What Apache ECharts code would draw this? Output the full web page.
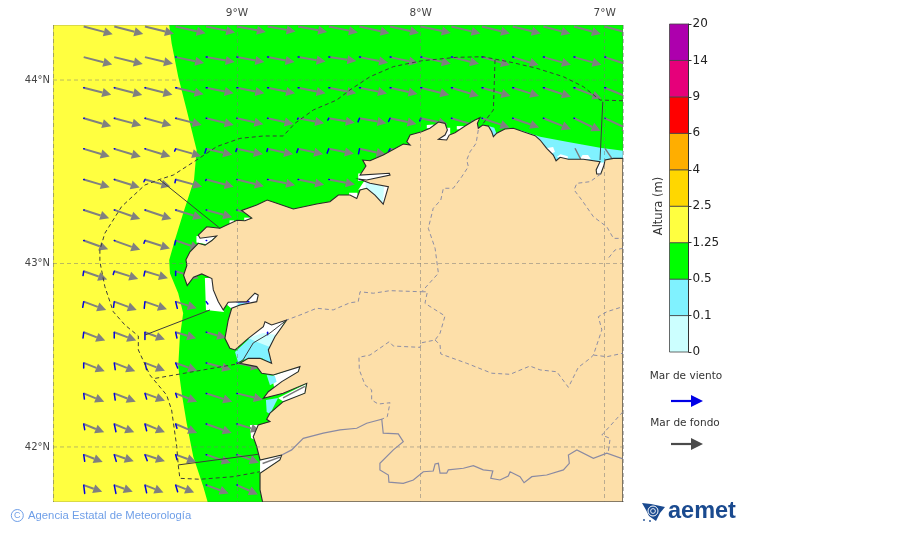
<!DOCTYPE html>
<html>
<head>
<meta charset="utf-8">
<title>Altura de ola</title>
<script src="https://cdn.jsdelivr.net/npm/echarts@6/dist/echarts.min.js"></script>
<style>
  html, body { margin: 0; padding: 0; background: #fff; }
  #main { width: 900px; height: 533px; }
</style>
</head>
<body>
<div id="main"></div>
<script>
// axis labels
const lonTicks = [-9, -8, -7];
const lonLabels = ['9°W', '8°W', '7°W'];
const latTicks = [42, 43, 44];
const latLabels = ['42°N', '43°N', '44°N'];

// colour bar
const barTicks = ['0', '0.1', '0.5', '1.25', '2.5', '4', '6', '9', '14', '20'];
const barColors = ['#ccffff', '#80f2ff', '#00ff00', '#ffff40', '#ffd700', '#ffae00', '#ff0000', '#e6007a', '#ad00ad'];

// arrow grid
const arrowLons = [-9.833, -9.667, -9.5, -9.333, -9.167, -9, -8.833, -8.667, -8.5, -8.333, -8.167, -8, -7.833, -7.667, -7.5, -7.333, -7.167, -7];
const arrowLats = [44.292, 44.125, 43.958, 43.792, 43.625, 43.458, 43.292, 43.125, 42.958, 42.792, 42.625, 42.458, 42.292, 42.125, 41.958, 41.792];

// mar de fondo, one row per latitude
const swellU = [
  [2.9, 2.9, 2.9, 3.0, 2.9, 2.9, 2.8, 2.9, 2.9, 3.0, 2.9, 3.0, 2.9, 2.8, 2.8, 2.7, 2.7, 2.7],
  [2.85, 2.85, 2.8, 2.85, 2.85, 2.75, 2.7, 2.75, 2.75, 2.85, 2.8, 3.0, 2.75, 2.8, 2.6, 2.75, 2.75, 2.75],
  [2.75, 2.8, 2.75, 2.8, 2.75, 2.75, 2.75, 2.75, 2.75, 2.75, 2.75, 2.85, 2.75, 2.85, 2.65, 2.75, 2.75, 2.75],
  [2.75, 2.7, 2.65, 2.6, 2.75, 2.65, 2.6, 2.6, 2.6, 2.7, 2.65, 2.7, 2.75, 2.75, 2.65, 2.75, 2.65, 2.7],
  [2.6, 2.65, 2.55, 2.55, 2.6, 2.6, 2.55, 2.5, 2.5, 2.6, 2.6],
  [2.6, 2.55, 2.55, 2.65, 2.75, 2.7, 2.75, 2.6, 2.6],
  [2.55, 2.6, 2.65, 2.65, 2.6, 2.5],
  [2.45, 2.6, 2.5, 2.4],
  [2.35, 2.4, 2.3, 2.3],
  [2.25, 2.25, 2.2, 2.1],
  [2.15, 2.2, 2.0, 2.05, 2.0],
  [2.1, 2.1, 2.0, 2.15, 2.5, 2.3],
  [2.05, 2.15, 2.0, 2.15, 2.6, 2.6],
  [2.05, 2.0, 2.0, 2.15, 2.55, 2.3],
  [1.9, 1.95, 2.0, 2.05, 2.45, 2.2],
  [1.85, 1.85, 1.85, 1.85, 2.25, 2.1]
];
const swellV = [
  [-0.77, -0.75, -0.72, -0.67, -0.6, -0.55, -0.5, -0.55, -0.6, -0.67, -0.65, -0.65, -0.7, -0.7, -0.7, -0.72, -0.75, -0.75],
  [-0.73, -0.7, -0.67, -0.6, -0.5, -0.5, -0.5, -0.45, -0.4, -0.57, -0.6, -0.67, -0.67, -0.8, -0.8, -0.77, -0.77, -0.9],
  [-0.7, -0.72, -0.7, -0.65, -0.55, -0.55, -0.55, -0.55, -0.55, -0.57, -0.63, -0.73, -0.83, -0.83, -0.83, -0.9, -1.07, -1.1],
  [-0.8, -0.73, -0.73, -0.67, -0.67, -0.6, -0.57, -0.5, -0.45, -0.5, -0.57, -0.6, -0.83, -0.93, -0.93, -1.1, -1.27, -1.25],
  [-0.77, -0.8, -0.77, -0.73, -0.6, -0.55, -0.55, -0.53, -0.5, -0.55, -0.6],
  [-0.77, -0.8, -0.7, -0.73, -0.73, -0.67, -0.57, -0.53, -0.5],
  [-0.83, -0.9, -0.9, -0.83, -0.73, -0.7],
  [-0.87, -0.93, -0.8, -0.8],
  [-0.83, -0.77, -0.7, -0.7],
  [-0.83, -0.83, -0.77, -0.67],
  [-0.83, -0.83, -0.73, -0.6, -0.55],
  [-0.83, -0.83, -0.77, -0.77, -0.67, -0.5],
  [-0.83, -0.83, -0.73, -0.83, -0.83, -0.63],
  [-0.83, -0.83, -0.83, -0.9, -0.9, -0.7],
  [-0.73, -0.67, -0.67, -0.73, -0.83, -0.8],
  [-0.67, -0.67, -0.73, -0.73, -0.83, -0.93]
];

// mar de viento, same grid
const windU = [
  [],
  [0, 0, 0, 0.05, 0.1, 0.1, 0.1, 0.1, 0.1, 0.1, 0.1, 0.1, 0.1, 0.1, 0.1, 0.1, 0.1, 0.1],
  [0.05, 0.05, 0.05, 0.1, 0.1, 0.1, 0.1, 0.1, 0.1, 0.1, 0.1, 0.1, 0.1, 0.1, 0.1, 0.1, 0.1, 0.1],
  [0.05, 0.05, 0.05, 0.05, 0.05, 0.05, 0.05, -0.05, -0.1, -0.15, -0.15, -0.1, 0.05, 0.05, 0.05, 0.05, 0.05, 0.05],
  [0.05, 0.05, 0.05, -0.1, -0.13, -0.1, -0.07, -0.13, -0.17, -0.1, -0.17],
  [0.05, 0.05, -0.1, -0.07, -0.05, 0.05, 0.05, 0.05, 0.05, 0.05],
  [0.05, 0.05, 0.05, 0.05, 0.05, 0.05],
  [0.05, 0.05, -0.1, -0.1, 0.05],
  [-0.07, -0.1, -0.1, 0],
  [-0.1, -0.07, -0.07, 0.17, 0.17, 1.2],
  [-0.07, 0, 0, 0.13, 0.05, 0, 0],
  [0, 0.1, 0.17, 0.2, 0.05, 0.05],
  [0.07, 0.1, 0.17, 0.13, 0.05, 0.05],
  [0.1, 0.17, 0.17, 0.13, 0.05, 0.05],
  [0.1, 0.2, 0.23, 0.13, 0.05, 0.05],
  [0.1, 0.17, 0.17, 0.2, 0.05, 0.05]
];
const windV = [
  [],
  [0, 0, 0, 0, 0, 0, 0, 0, 0, 0, 0, 0, 0, 0, 0, 0, 0, 0],
  [0, 0, 0, 0, 0, 0, 0, 0, 0, 0, 0, 0, 0, 0, 0, 0, 0, 0],
  [0, 0, 0, 0, 0, 0, 0, -0.1, -0.2, -0.37, -0.33, -0.27, 0, 0, 0, 0, 0, 0],
  [0, 0, 0, -0.23, -0.43, -0.27, -0.27, -0.37, -0.43, -0.5, -0.33],
  [0, 0, -0.23, -0.33, -0.1, 0, 0, 0, 0, 0],
  [0, 0, 0, 0, 0, 0],
  [0, 0, -0.27, -0.43, 0],
  [-0.43, -0.33, -0.47, -0.43],
  [-0.57, -0.57, -0.67, -0.67, -0.23, 0],
  [-0.57, -0.57, -0.73, -0.57, 0, 0, -0.25],
  [-0.5, -0.67, -0.67, -0.5, 0, 0],
  [-0.57, -0.67, -0.57, -0.4, 0, 0],
  [-0.57, -0.77, -0.67, -0.43, 0, 0],
  [-0.67, -0.67, -0.6, -0.5, 0, 0],
  [-0.83, -0.83, -0.77, -0.67, 0, 0]
];

// areas, [lon, lat]
const greenArea = [[-9.368, 44.3], [-9.355, 44.2], [-9.319, 44.018], [-9.273, 43.837], [-9.219, 43.619], [-9.233, 43.455], [-9.292, 43.274], [-9.337, 43.128], [-9.368, 43.019], [-9.364, 42.947], [-9.319, 42.838], [-9.292, 42.729], [-9.31, 42.601], [-9.319, 42.438], [-9.3, 42.293], [-9.273, 42.129], [-9.237, 41.947], [-9.183, 41.784], [-9.159, 41.7], [-6.9, 41.7], [-6.9, 44.3]];
const cyanAreas = [
  [[-7.46, 43.728], [-7.351, 43.691], [-7.206, 43.664], [-7.025, 43.631], [-6.9, 43.615], [-6.9, 43.55], [-7.25, 43.55], [-7.4, 43.65]],
  [[-7.632, 43.75], [-7.6, 43.74], [-7.585, 43.7], [-7.61, 43.69]],
  [[-9.01, 42.518], [-8.929, 42.594], [-8.86, 42.59], [-8.82, 42.556], [-8.809, 42.447], [-8.863, 42.483], [-8.94, 42.483], [-8.994, 42.463]],
  [[-8.838, 42.392], [-8.793, 42.387], [-8.784, 42.356], [-8.82, 42.337]],
  [[-8.842, 42.256], [-8.776, 42.267], [-8.82, 42.18], [-8.838, 42.191]],
  [[-8.994, 42.785], [-8.94, 42.785], [-8.983, 42.747], [-9.005, 42.757]]
];
const paleAreas = [
  [[-8.3, 43.45], [-8.2, 43.42], [-8.205, 43.33], [-8.25, 43.37], [-8.3, 43.41]],
  [[-8.94, 42.594], [-8.858, 42.621], [-8.78, 42.61], [-8.82, 42.545], [-8.89, 42.572]]
];
// no data in the rias, under the cyan
const whiteAreas = [
  [[-7.967, 43.737], [-7.967, 43.755], [-7.93, 43.757], [-7.93, 43.737]],
  [[-7.804, 43.731], [-7.804, 43.749], [-7.759, 43.749], [-7.759, 43.731]],
  [[-7.91, 43.665], [-7.91, 43.69], [-7.87, 43.74], [-7.84, 43.74], [-7.84, 43.67]],
  [[-8.34, 43.45], [-8.34, 43.49], [-8.16, 43.5], [-8.16, 43.47]],
  [[-8.34, 43.4], [-8.3, 43.46], [-8.17, 43.43], [-8.2, 43.31], [-8.25, 43.36], [-8.3, 43.41]],
  [[-8.39, 43.385], [-8.345, 43.385], [-8.34, 43.35], [-8.39, 43.35]],
  [[-8.96, 43.25], [-8.925, 43.25], [-8.925, 43.232], [-8.96, 43.232]],
  [[-9.04, 43.235], [-9.015, 43.235], [-9.015, 43.215], [-9.04, 43.215]],
  [[-9.22, 43.15], [-9.11, 43.15], [-9.164, 43.105], [-9.22, 43.115]],
  [[-9.174, 42.921], [-9.135, 42.921], [-9.114, 42.856], [-9.07, 42.736], [-9.168, 42.747]],
  [[-9.065, 42.785], [-8.885, 42.839], [-8.885, 42.785], [-9.027, 42.752]],
  [[-8.94, 42.594], [-8.847, 42.692], [-8.727, 42.703], [-8.793, 42.594], [-8.831, 42.518], [-8.809, 42.452], [-8.863, 42.556]],
  [[-8.809, 42.387], [-8.657, 42.44], [-8.668, 42.408], [-8.755, 42.354], [-8.793, 42.3]],
  [[-8.776, 42.267], [-8.624, 42.343], [-8.63, 42.294], [-8.744, 42.245]],
  [[-8.929, 42.12], [-8.885, 42.12], [-8.902, 42.038], [-8.923, 42.049]],
  [[-8.874, 41.929], [-8.756, 41.956], [-8.766, 41.929], [-8.874, 41.857]],
  [[-7.046, 43.51], [-7.043, 43.488], [-7.021, 43.488], [-7, 43.54], [-6.998, 43.57], [-7.03, 43.56]]
];
// white spots on top of the cyan band
const whiteSpots = [
  [[-7.313, 43.629], [-7.28, 43.635], [-7.27, 43.608], [-7.297, 43.597]],
  [[-7.134, 43.57], [-7.12, 43.592], [-7.09, 43.592], [-7.075, 43.57]],
  [[-7.26, 43.58], [-7.24, 43.595], [-7.2, 43.585], [-7.2, 43.57]]
];

const landArea = [[-6.9, 43.573], [-6.952, 43.573], [-6.998, 43.564], [-7.003, 43.537], [-7.021, 43.488], [-7.043, 43.488], [-7.046, 43.51], [-7.025, 43.555], [-7.116, 43.568], [-7.197, 43.568], [-7.242, 43.579], [-7.264, 43.56], [-7.279, 43.591], [-7.315, 43.628], [-7.351, 43.673], [-7.378, 43.697], [-7.442, 43.718], [-7.496, 43.737], [-7.542, 43.733], [-7.587, 43.71], [-7.605, 43.691], [-7.614, 43.718], [-7.632, 43.749], [-7.663, 43.755], [-7.687, 43.737], [-7.692, 43.764], [-7.678, 43.795], [-7.705, 43.782], [-7.759, 43.749], [-7.814, 43.713], [-7.845, 43.7], [-7.859, 43.673], [-7.904, 43.677], [-7.868, 43.7], [-7.855, 43.728], [-7.868, 43.764], [-7.904, 43.771], [-7.95, 43.737], [-7.995, 43.718], [-8.058, 43.7], [-8.076, 43.664], [-8.058, 43.646], [-8.095, 43.651], [-8.204, 43.591], [-8.276, 43.56], [-8.316, 43.564], [-8.298, 43.531], [-8.33, 43.482], [-8.171, 43.492], [-8.167, 43.482], [-8.294, 43.455], [-8.334, 43.459], [-8.276, 43.437], [-8.176, 43.419], [-8.204, 43.323], [-8.249, 43.373], [-8.294, 43.41], [-8.33, 43.401], [-8.348, 43.355], [-8.385, 43.373], [-8.448, 43.373], [-8.494, 43.337], [-8.566, 43.324], [-8.693, 43.297], [-8.783, 43.328], [-8.835, 43.346], [-8.892, 43.319], [-8.974, 43.289], [-8.919, 43.248], [-8.956, 43.233], [-9.0, 43.236], [-9.092, 43.192], [-9.164, 43.2], [-9.21, 43.155], [-9.2, 43.138], [-9.11, 43.15], [-9.136, 43.125], [-9.173, 43.1], [-9.21, 43.11], [-9.255, 43.064], [-9.277, 43.02], [-9.272, 42.99], [-9.29, 42.936], [-9.27, 42.88], [-9.236, 42.925], [-9.191, 42.943], [-9.136, 42.918], [-9.128, 42.856], [-9.101, 42.792], [-9.074, 42.747], [-9.047, 42.789], [-8.947, 42.792], [-8.902, 42.838], [-8.884, 42.828], [-8.892, 42.792], [-8.983, 42.774], [-9.028, 42.756], [-9.047, 42.692], [-9.065, 42.592], [-9.038, 42.538], [-9.01, 42.529], [-8.938, 42.592], [-8.856, 42.656], [-8.847, 42.683], [-8.811, 42.665], [-8.729, 42.692], [-8.793, 42.601], [-8.829, 42.529], [-8.811, 42.456], [-8.874, 42.483], [-8.938, 42.483], [-8.983, 42.456], [-8.892, 42.438], [-8.865, 42.402], [-8.802, 42.392], [-8.657, 42.438], [-8.666, 42.41], [-8.756, 42.356], [-8.829, 42.301], [-8.856, 42.265], [-8.748, 42.293], [-8.62, 42.347], [-8.63, 42.293], [-8.748, 42.247], [-8.82, 42.184], [-8.838, 42.151], [-8.82, 42.138], [-8.884, 42.12], [-8.911, 42.056], [-8.892, 42.002], [-8.874, 41.929], [-8.756, 41.956], [-8.766, 41.929], [-8.874, 41.857], [-8.874, 41.766], [-8.86, 41.7], [-6.9, 41.7]];

// jurisdiction limits at sea
const seaDashed = [
  [[-6.9, 43.887], [-7.025, 43.891], [-7.116, 43.964], [-7.224, 44.018], [-7.369, 44.064], [-7.496, 44.094], [-7.66, 44.127], [-7.804, 44.124], [-7.995, 44.105], [-8.149, 44.073], [-8.276, 44.018], [-8.385, 43.946], [-8.457, 43.891], [-8.584, 43.837], [-8.684, 43.764], [-8.748, 43.695], [-8.856, 43.695], [-8.983, 43.682], [-9.11, 43.637], [-9.219, 43.564], [-9.346, 43.482], [-9.418, 43.459], [-9.5, 43.428], [-9.627, 43.31], [-9.718, 43.165], [-9.745, 43.074], [-9.745, 43.01], [-9.718, 42.874], [-9.672, 42.737], [-9.609, 42.665], [-9.536, 42.605], [-9.536, 42.529], [-9.473, 42.392], [-9.382, 42.283], [-9.355, 42.202], [-9.327, 42.002], [-9.319, 41.902], [-9.31, 41.829], [-9.2, 41.824], [-9.02, 41.838], [-8.874, 41.865]],
  [[-9.444, 42.374], [-9.001, 42.452]],
  [[-7.596, 44.109], [-7.605, 43.837], [-7.66, 43.764]]
];
const seaSolid = [
  [[-9.001, 42.452], [-8.967, 42.474], [-8.911, 42.567], [-8.82, 42.621], [-8.729, 42.692]],
  [[-9.5, 42.61], [-9.146, 42.747]],
  [[-9.319, 41.902], [-8.884, 41.96]],
  [[-9.418, 43.455], [-9.092, 43.192]],
  [[-7.01, 43.882], [-7.025, 43.564]]
];
const shoalLines = [
  [[-7.161, 43.628], [-7.13, 43.568]],
  [[-6.998, 43.628], [-6.961, 43.573]],
  [[-8.749, 42.267], [-8.63, 42.33]],
  [[-8.86, 41.91], [-8.766, 41.945]]
];

// inland limits
const provinceLines = [
  [[-7.687, 43.728], [-7.699, 43.655], [-7.732, 43.609], [-7.75, 43.564], [-7.741, 43.528], [-7.777, 43.473], [-7.823, 43.41], [-7.877, 43.41], [-7.891, 43.346], [-7.932, 43.301], [-7.959, 43.192], [-7.922, 43.083], [-7.904, 42.947], [-7.995, 42.846], [-8.167, 42.852], [-8.258, 42.838], [-8.33, 42.846], [-8.34, 42.792], [-8.385, 42.786], [-8.476, 42.747], [-8.566, 42.756], [-8.657, 42.719], [-8.729, 42.692]],
  [[-7.995, 42.846], [-7.964, 42.846], [-7.977, 42.783], [-7.868, 42.714], [-7.895, 42.62], [-7.922, 42.583], [-7.995, 42.568], [-8.004, 42.543], [-8.149, 42.55], [-8.171, 42.574], [-8.276, 42.501], [-8.336, 42.489], [-8.334, 42.42], [-8.303, 42.338], [-8.267, 42.311], [-8.267, 42.256], [-8.231, 42.234], [-8.167, 42.241], [-8.182, 42.165], [-8.212, 42.151]],
  [[-7.922, 42.583], [-7.895, 42.556], [-7.891, 42.507], [-7.75, 42.456], [-7.614, 42.402], [-7.514, 42.396], [-7.406, 42.441], [-7.351, 42.42], [-7.26, 42.41], [-7.197, 42.325], [-7.143, 42.434], [-7.079, 42.483], [-7.061, 42.501], [-7.015, 42.638], [-7.034, 42.71], [-6.988, 42.737], [-6.9, 42.765]],
  [[-7.061, 42.501], [-6.988, 42.492], [-6.9, 42.511]],
  [[-6.9, 42.192], [-7.015, 42.065], [-6.97, 42.047], [-6.98, 41.974]],
  [[-7.021, 43.488], [-7.079, 43.446], [-7.151, 43.437], [-7.166, 43.401], [-7.124, 43.346], [-7.061, 43.255], [-6.988, 43.2], [-6.952, 43.137], [-6.9, 43.137]],
  [[-6.9, 43.083], [-6.943, 43.074], [-6.988, 43.019]]
];
const borderLine = [[-8.756, 41.956], [-8.702, 41.984], [-8.639, 42.047], [-8.53, 42.075], [-8.439, 42.093], [-8.348, 42.102], [-8.294, 42.129], [-8.212, 42.151], [-8.204, 42.075], [-8.122, 42.071], [-8.095, 42.029], [-8.149, 41.984], [-8.222, 41.911], [-8.222, 41.875], [-8.176, 41.847], [-8.173, 41.808], [-8.095, 41.802], [-8.04, 41.82], [-7.986, 41.865], [-7.932, 41.869], [-7.922, 41.907], [-7.904, 41.911], [-7.895, 41.857], [-7.859, 41.857], [-7.85, 41.875], [-7.768, 41.884], [-7.714, 41.898], [-7.66, 41.875], [-7.608, 41.869], [-7.619, 41.829], [-7.569, 41.82], [-7.524, 41.842], [-7.514, 41.865], [-7.46, 41.838], [-7.438, 41.805], [-7.396, 41.838], [-7.315, 41.847], [-7.224, 41.875], [-7.192, 41.911], [-7.197, 41.956], [-7.151, 41.984], [-7.061, 41.938], [-6.988, 41.966], [-6.9, 41.935]];

const LON_MIN = -10, LON_MAX = -6.9, LAT_MIN = 41.7, LAT_MAX = 44.3;
const ARROW_PX = 10;
const GRATICULE = 'rgba(120,120,120,0.5)';

function polygons(rings, style, z) {
  return {
    type: 'custom', silent: true, clip: true, z: z,
    xAxisIndex: 0, yAxisIndex: 0,
    data: rings.map(r => r[0]),
    renderItem: (params, api) => ({
      type: 'polygon',
      shape: { points: rings[params.dataIndex].map(p => api.coord(p)) },
      style: style
    })
  };
}

function polylines(lines, style, z) {
  return {
    type: 'custom', silent: true, clip: true, z: z,
    xAxisIndex: 0, yAxisIndex: 0,
    data: lines.map(r => r[0]),
    renderItem: (params, api) => ({
      type: 'polyline',
      shape: { points: lines[params.dataIndex].map(p => api.coord(p)) },
      style: Object.assign({ fill: null }, style)
    })
  };
}

function gridCells(uRows, vRows) {
  let cells = [];
  uRows.forEach((row, i) => row.forEach((u, j) => {
    cells.push([arrowLons[j], arrowLats[i], u, vRows[i][j]]);
  }));
  return cells;
}

function renderSwell(params, api) {
  let start = api.coord([api.value(0), api.value(1)]);
  let dx = api.value(2) * ARROW_PX, dy = -api.value(3) * ARROW_PX;
  let len = Math.sqrt(dx * dx + dy * dy);
  let ux = dx / len, uy = dy / len;
  let tip = [start[0] + dx, start[1] + dy];
  let back = [tip[0] - ux * 9, tip[1] - uy * 9];
  return {
    type: 'group',
    children: [
      { type: 'line', shape: { x1: start[0], y1: start[1], x2: back[0], y2: back[1] },
        style: { stroke: '#808080', lineWidth: 2 } },
      { type: 'polygon',
        shape: { points: [tip, [back[0] - uy * 4.6, back[1] + ux * 4.6], [back[0] + uy * 4.6, back[1] - ux * 4.6]] },
        style: { fill: '#808080' } }
    ]
  };
}

function renderWind(params, api) {
  let u = api.value(2), v = api.value(3);
  if (u === 0 && v === 0) return null;
  let start = api.coord([api.value(0), api.value(1)]);
  return {
    type: 'line',
    shape: { x1: start[0], y1: start[1], x2: start[0] + u * ARROW_PX, y2: start[1] - v * ARROW_PX },
    style: { stroke: '#0000e6', lineWidth: 1.5, lineCap: 'round' }
  };
}

function legendArrow(y, color) {
  return [
    { type: 'line', z: 20, shape: { x1: 671, y1: y, x2: 693, y2: y }, style: { stroke: color, lineWidth: 2.2 } },
    { type: 'polygon', z: 20, shape: { points: [[703, y], [691, y - 6], [691, y + 6]] }, style: { fill: color } }
  ];
}

const textFont = 'DejaVu Sans';

let chart = echarts.init(document.getElementById('main'), null, { renderer: 'canvas' });

chart.setOption({
  animation: false,
  backgroundColor: '#fff',
  grid: [
    { left: 53, top: 25, width: 570, height: 477, show: true, backgroundColor: '#ffff40', borderWidth: 0 },
    { left: 669.5, top: 24, width: 19, height: 328 }
  ],
  xAxis: [
    {
      gridIndex: 0, type: 'value', position: 'top', min: LON_MIN, max: LON_MAX, interval: 1, z: 4,
      axisLine: { show: false }, axisTick: { show: false },
      splitLine: { show: true, lineStyle: { color: GRATICULE, type: [4, 3], width: 1 } },
      axisLabel: {
        margin: 6, fontFamily: textFont, fontSize: 10.5, color: '#444',
        formatter: v => { let i = lonTicks.indexOf(v); return i < 0 ? '' : lonLabels[i]; }
      }
    },
    { gridIndex: 1, type: 'value', min: 0, max: 1, show: false }
  ],
  yAxis: [
    {
      // ticks count from min, so step in tenths and label only the whole degrees
      gridIndex: 0, type: 'value', min: LAT_MIN, max: LAT_MAX, interval: 0.1, z: 4,
      axisLine: { show: false }, axisTick: { show: false }, splitLine: { show: false },
      axisLabel: {
        margin: 3, fontFamily: textFont, fontSize: 10, color: '#444',
        formatter: v => { let i = latTicks.indexOf(Math.round(v * 10) / 10); return i < 0 ? '' : latLabels[i]; }
      }
    },
    {
      gridIndex: 1, type: 'value', position: 'right', min: 0, max: barColors.length, interval: 1, z: 6,
      splitLine: { show: false },
      axisLine: { show: true, onZero: false, lineStyle: { color: '#333', width: 1 } },
      axisTick: { show: true, length: 3, lineStyle: { color: '#333' } },
      axisLabel: { margin: 4, fontFamily: textFont, fontSize: 12, color: '#222', formatter: v => barTicks[v] }
    }
  ],
  series: [
    polygons([greenArea], { fill: '#00ff00' }, 1),
    polygons(whiteAreas, { fill: '#ffffff' }, 1.05),
    polygons(cyanAreas, { fill: '#80f2ff' }, 1.1),
    polygons(whiteSpots, { fill: '#ffffff' }, 1.15),
    polygons(paleAreas, { fill: '#ccffff' }, 1.2),
    polylines(shoalLines, { stroke: '#777', lineWidth: 1.4 }, 1.3),
    { type: 'custom', silent: true, clip: true, z: 2, xAxisIndex: 0, yAxisIndex: 0, data: gridCells(swellU, swellV), renderItem: renderSwell },
    { type: 'custom', silent: true, clip: true, z: 2.1, xAxisIndex: 0, yAxisIndex: 0, data: gridCells(windU, windV), renderItem: renderWind },
    polygons([landArea], { fill: '#fddfa9', stroke: '#2b2b2b', lineWidth: 1.1 }, 3),
    polylines(latTicks.map(lat => [[LON_MIN, lat], [LON_MAX, lat]]), { stroke: GRATICULE, lineWidth: 1, lineDash: [4, 3] }, 4),
    polylines(provinceLines, { stroke: '#8e8ea4', lineWidth: 1, lineDash: [4, 3] }, 5),
    polylines([borderLine], { stroke: '#8a8aa2', lineWidth: 1.2 }, 5),
    polylines(seaDashed, { stroke: '#3c3c3c', lineWidth: 1, lineDash: [4, 3] }, 5),
    polylines(seaSolid, { stroke: '#3c3c3c', lineWidth: 1 }, 5),
    polylines([[[LON_MIN, LAT_MIN], [LON_MIN, LAT_MAX], [LON_MAX, LAT_MAX], [LON_MAX, LAT_MIN], [LON_MIN, LAT_MIN]]],
      { stroke: 'rgba(90,90,90,0.45)', lineWidth: 1 }, 6),
    {
      type: 'custom', silent: true, z: 5, xAxisIndex: 1, yAxisIndex: 1,
      data: barColors.map((c, i) => [i]),
      renderItem: (params, api) => {
        let a = api.coord([0, api.value(0) + 1]);
        let b = api.coord([1, api.value(0)]);
        return {
          type: 'rect',
          shape: { x: a[0], y: a[1], width: b[0] - a[0], height: b[1] - a[1] },
          style: { fill: barColors[params.dataIndex], stroke: '#444', lineWidth: 0.8 }
        };
      }
    }
  ],
  graphic: [
    { type: 'text', z: 20, x: 659.5, y: 206, rotation: Math.PI / 2,
      style: { text: 'Altura (m)', fontFamily: textFont, fontSize: 11.5, fill: '#333', align: 'center', verticalAlign: 'middle' } },
    { type: 'text', z: 20, x: 686, y: 376,
      style: { text: 'Mar de viento', fontFamily: textFont, fontSize: 10.5, fill: '#333', align: 'center', verticalAlign: 'middle' } },
    { type: 'text', z: 20, x: 685, y: 423,
      style: { text: 'Mar de fondo', fontFamily: textFont, fontSize: 10.5, fill: '#333', align: 'center', verticalAlign: 'middle' } }
  ].concat(legendArrow(401, '#0000e6'), legendArrow(444, '#4a4a4a'), [
    { type: 'circle', z: 20, shape: { cx: 17.3, cy: 515.5, r: 6 }, style: { fill: null, stroke: '#6f9fe8', lineWidth: 1 } },
    { type: 'text', z: 20, x: 17.3, y: 515.7,
      style: { text: 'C', fontFamily: 'Liberation Sans', fontSize: 9, fill: '#6f9fe8', align: 'center', verticalAlign: 'middle' } },
    { type: 'text', z: 20, x: 28, y: 516,
      style: { text: 'Agencia Estatal de Meteorología', fontFamily: 'Liberation Sans', fontSize: 11.3, fill: '#6f9fe8', verticalAlign: 'middle' } },
    { type: 'polygon', z: 20, shape: { points: [[642, 503], [651, 504], [665, 507], [660, 513], [656, 521], [649, 516], [646, 510]] }, style: { fill: '#1a4a8f' } },
    { type: 'circle', z: 20, shape: { cx: 653, cy: 511, r: 5 }, style: { fill: null, stroke: '#fff', lineWidth: 1 } },
    { type: 'circle', z: 20, shape: { cx: 653, cy: 511, r: 2.4 }, style: { fill: null, stroke: '#fff', lineWidth: 0.9 } },
    { type: 'circle', z: 20, shape: { cx: 644, cy: 520, r: 0.9 }, style: { fill: '#1a4a8f' } },
    { type: 'circle', z: 20, shape: { cx: 650, cy: 521, r: 0.9 }, style: { fill: '#1a4a8f' } },
    { type: 'text', z: 20, x: 668, y: 512,
      style: { text: 'aemet', fontFamily: 'Liberation Sans', fontWeight: 'bold', fontSize: 23.5, fill: '#1a4a8f', verticalAlign: 'middle' } }
  ])
});
</script>
</body>
</html>
